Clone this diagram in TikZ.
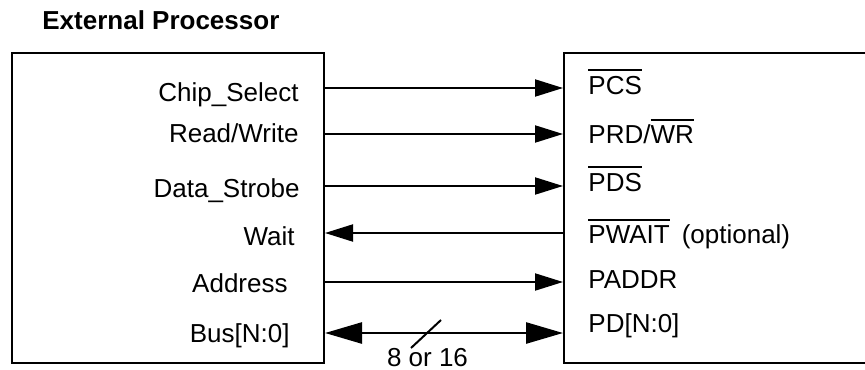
\documentclass[tikz,border=0pt]{standalone}
\usepackage{fontspec}
\setmainfont{Liberation Sans}
\usetikzlibrary{arrows.meta,calc}
% active-low signal name: bar drawn above the letters
\newcommand\actlow[1]{\leavevmode\vbox{\hrule height 1pt\kern 2.2pt\hbox{#1}}}
\begin{document}
\begin{tikzpicture}[x=0.5pt,y=-0.5pt,
  every node/.style={inner sep=0pt,font=\fontsize{13}{15.6}\selectfont},
  block/.style={draw,line width=1pt,minimum height=155pt},
  lbl/.style={anchor=base east},
  rlbl/.style={anchor=base west},
  sig/.style={line width=1pt,-{Triangle[length=14pt,width=8.5pt]}},
  bus/.style={line width=1.3pt,{Triangle[length=18.5pt,width=10.5pt]}-{Triangle[length=18.5pt,width=10.5pt]}},
  tick/.style={line width=1pt}]
\clip (0,0) rectangle (865,369);

\node[anchor=base west,font=\fontsize{13}{15.6}\selectfont\bfseries] (title) at (42,30) {External Processor};

\node[block,minimum width=156pt] (proc) at (168,208) {};
\node[block,minimum width=198pt] (dev) at (762,208) {};

% signal rows: tap points on both block edges
\foreach \i/\y in {1/89,2/135,3/187,4/234,5/283,6/334}{
  \coordinate (L\i) at ($(proc.north east)+(0,\y-53)$);
  \coordinate (R\i) at ($(dev.north west)+(0,\y-53)$);
}

% processor side
\node[lbl] (cs)   at (299,101) {Chip\_Select};
\node[lbl] (rw)   at (299,142) {Read/Write};
\node[lbl] (ds)   at (300,197) {Data\_Strobe};
\node[lbl] (wt)   at (295,245) {Wait};
\node[lbl] (ad)   at (288,292) {Address};
\node[lbl] (bs)   at (290,342) {Bus[N:0]};

% peripheral side
\node[rlbl] (pcs)   at (588,94)  {\actlow{PCS}};
\node[rlbl] (prdwr) at (588,143) {PRD/\actlow{WR}};
\node[rlbl] (pds)   at (588,191) {\actlow{PDS}};
\node[rlbl] (pwait) at (588,243) {\actlow{PWAIT}\hspace{6pt}(optional)};
\node[rlbl] (paddr) at (588,288) {PADDR};
\node[rlbl] (pd)    at (588,332) {PD[N:0]};

% connections
\draw[sig] (L1) -- (R1);
\draw[sig] (L2) -- (R2);
\draw[sig] (L3) -- (R3);
\draw[sig] (R4) -- (L4);
\draw[sig] (L5) -- (R5);
\draw[bus] (L6) -- (R6);

% bus width mark
\draw[tick] (411,348) -- (441,320);
\node[anchor=base] (width) at (427.5,366) {8 or 16};
\end{tikzpicture}
\end{document}
